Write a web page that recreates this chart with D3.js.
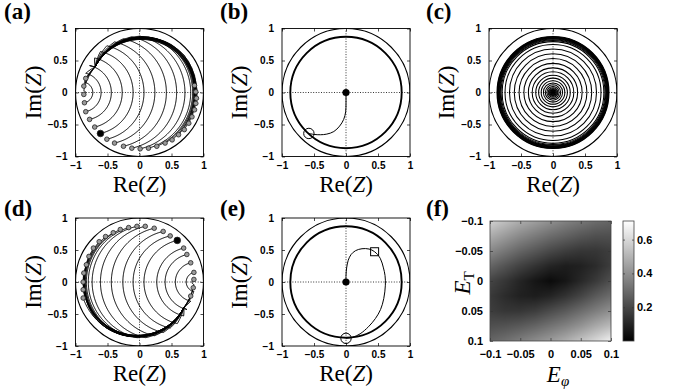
<!DOCTYPE html>
<html><head><meta charset="utf-8">
<script src="https://cdn.jsdelivr.net/npm/d3@7"></script>
<style>body{margin:0;background:#fff}svg{display:block}</style>
</head><body>
<svg id="fig" width="673" height="392" xmlns="http://www.w3.org/2000/svg"></svg>
<script>
// ---------------- data ----------------
const ticksZ = [-1, -0.5, 0, 0.5, 1];
const tickLabelsZ = ["−1", "−0.5", "0", "0.5", "1"];
const ticksE = [-0.1, -0.05, 0, 0.05, 0.1];
const tickLabelsE = ["−0.1", "−0.05", "0", "0.05", "0.1"];
const cbTicks = [0.2, 0.4, 0.6];
const cbLabels = ["0.2", "0.4", "0.6"];
const cbMax = 0.71;
const limitRadius = 0.87;
const unitRadius = 1;

// panel (a): markers, x-axis crossing of each arc (null = no arc), end point on the ring
const aMarkX = [-0.84,-0.87,-0.87,-0.86,-0.84,-0.78,-0.70,-0.61,-0.51,-0.39,-0.25,-0.12,0.01,0.14,0.27,0.40,0.51,0.61,0.70,0.77,0.82,0.86,0.88,0.89,0.88,0.86];
const aMarkY = [0.22,0.10,-0.03,-0.16,-0.30,-0.42,-0.54,-0.64,-0.73,-0.79,-0.84,-0.87,-0.88,-0.87,-0.84,-0.79,-0.74,-0.66,-0.58,-0.48,-0.38,-0.27,-0.17,-0.09,0.01,0.11];
const aCross = [null,null,-0.846,-0.73,-0.60,-0.44,-0.27,-0.10,0.07,0.24,0.42,0.58,0.71,0.80,0.83,0.845,0.855,0.86,0.865,0.87,0.875,0.88,0.89,0.90,null,null];
const aEndAngle = 150;   // degrees
const aEndRadius = 0.80;
const aFilled = 7;

// panel (d)
const dMarkX = [0.80,0.84,0.85,0.85,0.80,0.74,0.69,0.59,0.48,0.37,0.23,0.09,-0.04,-0.17,-0.30,-0.41,-0.53,-0.63,-0.72,-0.79,-0.83,-0.87,-0.88,-0.88,-0.88];
const dMarkY = [-0.22,-0.09,0.04,0.15,0.30,0.43,0.53,0.65,0.72,0.79,0.84,0.87,0.87,0.85,0.82,0.77,0.71,0.63,0.53,0.40,0.27,0.14,0.00,-0.12,-0.25];
const dCross = [null,null,0.82,0.73,0.56,0.40,0.27,0.07,-0.10,-0.26,-0.44,-0.61,-0.74,-0.80,-0.83,-0.845,-0.855,-0.86,-0.865,-0.87,-0.875,-0.88,-0.89,null,null];
const dEndAngle = -30;
const dEndRadius = 0.80;
const dFilled = 7;

// panel (b) trajectory
const bTrajX = [-0.58,-0.50,-0.40,-0.30,-0.19,-0.10,-0.036,-0.005,0,0];
const bTrajY = [-0.64,-0.655,-0.66,-0.65,-0.61,-0.525,-0.42,-0.30,-0.17,0];

// panel (c) rings
const cRadii = [0.875,0.868,0.862,0.856,0.85,0.843,0.835,0.825,0.812,0.795,0.75,0.68,0.605,0.53,0.455,0.385,0.325,0.27,0.225,0.185,0.15,0.12,0.095,0.075,0.06,0.048,0.038,0.03,0.022,0.015,0.01];

// panel (e) trajectory (open circle -> square -> centre)
const eTrajX = [0.0,0.10,0.22,0.35,0.46,0.54,0.59,0.615,0.61,0.585,0.535,0.447,0.36,0.25,0.15,0.08,0.035,0.01,0,0];
const eTrajY = [-0.88,-0.865,-0.81,-0.70,-0.57,-0.43,-0.26,-0.05,0.10,0.22,0.37,0.473,0.515,0.52,0.49,0.43,0.34,0.22,0.10,0];
const eSquare = [0.447, 0.473];

// panel (f) heat map grid (rows E_T -0.1..0.1, cols E_phi -0.1..0.1)
const fGridE = [-0.1,-0.075,-0.05,-0.025,0,0.025,0.05,0.075,0.1];
const fRow0 = [0.58,0.53,0.48,0.44,0.40,0.36,0.33,0.30,0.28];
const fRow1 = [0.48,0.43,0.38,0.34,0.30,0.27,0.24,0.22,0.22];
const fRow2 = [0.38,0.33,0.28,0.24,0.20,0.17,0.15,0.15,0.17];
const fRow3 = [0.28,0.23,0.18,0.14,0.10,0.08,0.09,0.12,0.17];
const fRow4 = [0.19,0.15,0.10,0.06,0.03,0.06,0.11,0.16,0.22];
const fRow5 = [0.16,0.12,0.09,0.08,0.10,0.14,0.19,0.25,0.30];
const fRow6 = [0.17,0.15,0.15,0.17,0.21,0.25,0.30,0.35,0.40];
const fRow7 = [0.22,0.23,0.25,0.28,0.32,0.36,0.41,0.47,0.52];
const fRow8 = [0.28,0.31,0.35,0.39,0.43,0.48,0.54,0.60,0.67];
const fGrid = [fRow0,fRow1,fRow2,fRow3,fRow4,fRow5,fRow6,fRow7,fRow8];

// ---------------- drawing ----------------
const svg = d3.select("#fig");
const SANS = "'Liberation Sans', Arial, sans-serif";
const SERIF = "'Liberation Serif', 'Times New Roman', serif";
const TAU = 2*Math.PI;

function trajPts(M, c, endDeg, endR){
  const pts=[];
  let thT, rT;
  if (c===null){ thT=Math.atan2(M[1],M[0]); rT=Math.hypot(M[0],M[1]); }
  else {
    const r=((M[0]-c)**2+M[1]**2)/(2*(c-M[0]));
    const cx=c-r, R=Math.abs(r);
    const a0=Math.atan2(M[1],M[0]-cx), a1=-a0;
    const span=((a1-a0)%TAU+TAU)%TAU;
    const n=Math.max(12,Math.ceil(span*R*80));
    for(let i=0;i<=n;i++){const a=a0+span*i/n;pts.push([cx+R*Math.cos(a),R*Math.sin(a)]);}
    thT=Math.atan2(-M[1],M[0]); rT=Math.hypot(M[0],M[1]);
  }
  const thP=endDeg*Math.PI/180;
  let d=thP-thT; while(d>Math.PI)d-=TAU; while(d<=-Math.PI)d+=TAU;
  const n2=Math.max(4,Math.ceil(Math.abs(d)*60));
  for(let i=0;i<=n2;i++){const t=i/n2,a=thT+d*t,rr=rT+(endR-rT)*t;pts.push([rr*Math.cos(a),rr*Math.sin(a)]);}
  return pts;
}

function panel(x0,x1,y0,y1){
  const x=d3.scaleLinear().domain([-1,1]).range([x0,x1]);
  const y=d3.scaleLinear().domain([-1,1]).range([y1,y0]);
  const g=svg.append("g");
  const clipId="clip"+Math.round(x0)+"_"+Math.round(y0);
  svg.append("clipPath").attr("id",clipId).append("rect").attr("x",x0).attr("y",y0).attr("width",x1-x0).attr("height",y1-y0);
  const inner=g.append("g").attr("clip-path",`url(#${clipId})`);
  inner.append("line").attr("x1",x(-1)).attr("x2",x(1)).attr("y1",y(0)).attr("y2",y(0))
    .attr("stroke","#000").attr("stroke-width",0.8).attr("stroke-dasharray","1,1.6");
  inner.append("line").attr("y1",y(-1)).attr("y2",y(1)).attr("x1",x(0)).attr("x2",x(0))
    .attr("stroke","#000").attr("stroke-width",0.8).attr("stroke-dasharray","1,1.6");
  inner.append("circle").attr("cx",x(0)).attr("cy",y(0)).attr("r",x(unitRadius)-x(0))
    .attr("fill","none").attr("stroke","#000").attr("stroke-width",1.1);
  const fmt=d=>tickLabelsZ[ticksZ.indexOf(d)];
  const styleAx=s=>{s.select(".domain").remove();s.selectAll("line").attr("stroke","#000").attr("stroke-width",0.7);
    s.selectAll("text").attr("font-family",SANS).attr("font-weight","bold").attr("font-size",10).attr("fill","#000");};
  g.append("g").attr("transform",`translate(0,${y1})`).call(d3.axisBottom(x).tickValues(ticksZ).tickFormat(fmt).tickSizeInner(-3).tickSizeOuter(0).tickPadding(5)).call(styleAx);
  g.append("g").attr("transform",`translate(0,${y0})`).call(d3.axisTop(x).tickValues(ticksZ).tickFormat("").tickSizeInner(-3).tickSizeOuter(0)).call(styleAx);
  g.append("g").attr("transform",`translate(${x0},0)`).call(d3.axisLeft(y).tickValues(ticksZ).tickFormat(fmt).tickSizeInner(-3).tickSizeOuter(0).tickPadding(8)).call(styleAx);
  g.append("g").attr("transform",`translate(${x1},0)`).call(d3.axisRight(y).tickValues(ticksZ).tickFormat("").tickSizeInner(-3).tickSizeOuter(0)).call(styleAx);
  g.append("rect").attr("x",x0).attr("y",y0).attr("width",x1-x0).attr("height",y1-y0)
    .attr("fill","none").attr("stroke","#000").attr("stroke-width",0.9);
  const cx=(x0+x1)/2, cy=(y0+y1)/2;
  const t=g.append("text").attr("x",cx).attr("y",y1+35).attr("text-anchor","middle")
    .attr("font-family",SERIF).attr("font-size",23).attr("fill","#000");
  t.append("tspan").text("Re(");t.append("tspan").attr("font-style","italic").text("Z");t.append("tspan").text(")");
  const t2=g.append("text").attr("transform",`translate(${x0-35},${cy}) rotate(-90)`).attr("text-anchor","middle")
    .attr("font-family",SERIF).attr("font-size",23).attr("fill","#000");
  t2.append("tspan").text("Im(");t2.append("tspan").attr("font-style","italic").text("Z");t2.append("tspan").text(")");
  return {x,y,g,inner};
}
function label(txt,x,y){
  svg.append("text").attr("x",x).attr("y",y).attr("font-family",SERIF).attr("font-weight","bold")
    .attr("font-size",23).attr("fill","#000").text(txt);
}
const line=(x,y)=>d3.line().x(d=>x(d[0])).y(d=>y(d[1])).curve(d3.curveCatmullRom.alpha(0.5));
const lineLin=(x,y)=>d3.line().x(d=>x(d[0])).y(d=>y(d[1]));

function fanPanel(p, mx, my, cross, endDeg, endR, filled){
  const L=lineLin(p.x,p.y);
  mx.forEach((v,i)=>{
    p.inner.append("path").attr("d",L(trajPts([v,my[i]],cross[i],endDeg,endR)))
      .attr("fill","none").attr("stroke","#000").attr("stroke-width",1);
  });
  mx.forEach((v,i)=>{
    const f=i===filled;
    p.inner.append("circle").attr("cx",p.x(v)).attr("cy",p.y(my[i])).attr("r",f?3.3:2.3)
      .attr("fill",f?"#000":"#9a9a9a").attr("stroke","#222").attr("stroke-width",0.8);
  });
}

// (a)
const pa=panel(75.5,203.5,28.5,156.5);
fanPanel(pa,aMarkX,aMarkY,aCross,aEndAngle,aEndRadius,aFilled);
label("(a)",4,19);

// (b)
const pb=panel(282,410,28.5,156.5);
pb.inner.append("circle").attr("cx",pb.x(0)).attr("cy",pb.y(0)).attr("r",pb.x(limitRadius)-pb.x(0))
  .attr("fill","none").attr("stroke","#000").attr("stroke-width",1.9);
pb.inner.append("path").attr("d",line(pb.x,pb.y)(bTrajX.map((v,i)=>[v,bTrajY[i]])))
  .attr("fill","none").attr("stroke","#000").attr("stroke-width",1);
pb.inner.append("circle").attr("cx",pb.x(bTrajX[0])).attr("cy",pb.y(bTrajY[0])).attr("r",5.2)
  .attr("fill","none").attr("stroke","#000").attr("stroke-width",1);
pb.inner.append("circle").attr("cx",pb.x(0)).attr("cy",pb.y(0)).attr("r",3.6).attr("fill","#000");
label("(b)",220,19);

// (c)
const pc=panel(489,617,28.5,156.5);
pc.inner.selectAll("circle.ring").data(cRadii).join("circle").attr("class","ring")
  .attr("cx",pc.x(0)).attr("cy",pc.y(0)).attr("r",d=>pc.x(d)-pc.x(0))
  .attr("fill","none").attr("stroke","#000").attr("stroke-width",1.05);
label("(c)",426,19);

// (d)
const pd=panel(75.5,203.5,218,346);
fanPanel(pd,dMarkX,dMarkY,dCross,dEndAngle,dEndRadius,dFilled);
label("(d)",4,216);

// (e)
const pe=panel(282,410,218,346);
pe.inner.append("circle").attr("cx",pe.x(0)).attr("cy",pe.y(0)).attr("r",pe.x(limitRadius)-pe.x(0))
  .attr("fill","none").attr("stroke","#000").attr("stroke-width",1.9);
pe.inner.append("path").attr("d",line(pe.x,pe.y)(eTrajX.map((v,i)=>[v,eTrajY[i]])))
  .attr("fill","none").attr("stroke","#000").attr("stroke-width",1);
pe.inner.append("circle").attr("cx",pe.x(eTrajX[0])).attr("cy",pe.y(eTrajY[0])).attr("r",5.2)
  .attr("fill","none").attr("stroke","#000").attr("stroke-width",1);
pe.inner.append("rect").attr("x",pe.x(eSquare[0])-4).attr("y",pe.y(eSquare[1])-4).attr("width",8).attr("height",8)
  .attr("fill","none").attr("stroke","#000").attr("stroke-width",1);
pe.inner.append("circle").attr("cx",pe.x(0)).attr("cy",pe.y(0)).attr("r",3.6).attr("fill","#000");
label("(e)",220,216);

// (f)
label("(f)",426,216);
const fx=d3.scaleLinear().domain([-0.1,0.1]).range([490,611]);
const fy=d3.scaleLinear().domain([-0.1,0.1]).range([221,341]);
const gray=d3.scaleLinear().domain([0,cbMax]).range([0,255]).clamp(true);
const gi=d3.scaleLinear().domain([fGridE[0],fGridE[fGridE.length-1]]).range([0,fGridE.length-1]).clamp(true);
const W=Math.round(fx(0.1)-fx(-0.1)), H=Math.round(fy(0.1)-fy(-0.1));
const cv=document.createElement("canvas"); cv.width=W; cv.height=H;
const ctx=cv.getContext("2d"); const img=ctx.createImageData(W,H);
for(let py=0;py<H;py++){ for(let px=0;px<W;px++){
  const u=gi(fx.invert(fx.range()[0]+px+0.5)), v=gi(fy.invert(fy.range()[0]+py+0.5));
  const i0=Math.min(Math.floor(u),7), j0=Math.min(Math.floor(v),7), du=u-i0, dv=v-j0;
  const val=fGrid[j0][i0]*(1-du)*(1-dv)+fGrid[j0][i0+1]*du*(1-dv)+fGrid[j0+1][i0]*(1-du)*dv+fGrid[j0+1][i0+1]*du*dv;
  const c=gray(val), k=(py*W+px)*4;
  img.data[k]=c;img.data[k+1]=c;img.data[k+2]=c;img.data[k+3]=255;
}}
ctx.putImageData(img,0,0);
svg.append("image").attr("x",fx(-0.1)).attr("y",fy(-0.1)).attr("width",W).attr("height",H)
  .attr("preserveAspectRatio","none").attr("href",cv.toDataURL());
const fg=svg.append("g");
const fmtE=d=>tickLabelsE[ticksE.indexOf(d)];
const styleF=s=>{s.select(".domain").remove();s.selectAll("line").attr("stroke","#333").attr("stroke-width",0.7);
  s.selectAll("text").attr("font-family",SANS).attr("font-weight","bold").attr("font-size",11).attr("fill","#000");};
fg.append("g").attr("transform","translate(0,341)").call(d3.axisBottom(fx).tickValues(ticksE).tickFormat(fmtE).tickSizeInner(-3).tickSizeOuter(0).tickPadding(9)).call(styleF);
fg.append("g").attr("transform","translate(0,221)").call(d3.axisTop(fx).tickValues(ticksE).tickFormat("").tickSizeInner(-3).tickSizeOuter(0)).call(styleF);
fg.append("g").attr("transform","translate(490,0)").call(d3.axisLeft(fy).tickValues(ticksE).tickFormat(fmtE).tickSizeInner(-3).tickSizeOuter(0).tickPadding(7)).call(styleF);
fg.append("g").attr("transform","translate(611,0)").call(d3.axisRight(fy).tickValues(ticksE).tickFormat("").tickSizeInner(-3).tickSizeOuter(0)).call(styleF);
fg.append("rect").attr("x",490).attr("y",221).attr("width",121).attr("height",120).attr("fill","none").attr("stroke","#444").attr("stroke-width",0.8);
const et=svg.append("text").attr("transform","translate(470,283) rotate(-90)").attr("text-anchor","middle")
  .attr("font-family",SERIF).attr("font-size",23).attr("fill","#000");
et.append("tspan").attr("font-style","italic").text("E");
et.append("tspan").attr("font-size",15).attr("dy",4).text("T");
const ep=svg.append("text").attr("x",558).attr("y",382).attr("text-anchor","middle")
  .attr("font-family",SERIF).attr("font-size",23).attr("fill","#000");
ep.append("tspan").attr("font-style","italic").text("E");
ep.append("tspan").attr("font-size",15).attr("font-style","italic").attr("dy",4).text("φ");
const cb=d3.scaleLinear().domain([0,cbMax]).range([341,221]);
const grad=svg.append("defs").append("linearGradient").attr("id","cbg").attr("x1",0).attr("y1",1).attr("x2",0).attr("y2",0);
grad.append("stop").attr("offset",0).attr("stop-color","#000");
grad.append("stop").attr("offset",1).attr("stop-color","#fff");
svg.append("rect").attr("x",623).attr("y",cb(cbMax)).attr("width",11).attr("height",cb(0)-cb(cbMax)).attr("fill","url(#cbg)");
svg.append("g").attr("transform","translate(634,0)").call(d3.axisRight(cb).tickValues(cbTicks).tickFormat(d=>cbLabels[cbTicks.indexOf(d)]).tickSizeInner(-2).tickSizeOuter(0).tickPadding(3)).call(styleF);
svg.append("g").attr("transform","translate(623,0)").call(d3.axisLeft(cb).tickValues(cbTicks).tickFormat("").tickSizeInner(-2).tickSizeOuter(0)).call(styleF);
svg.append("rect").attr("x",623).attr("y",cb(cbMax)).attr("width",11).attr("height",cb(0)-cb(cbMax)).attr("fill","none").attr("stroke","#444").attr("stroke-width",0.8);
</script>
</body></html>
